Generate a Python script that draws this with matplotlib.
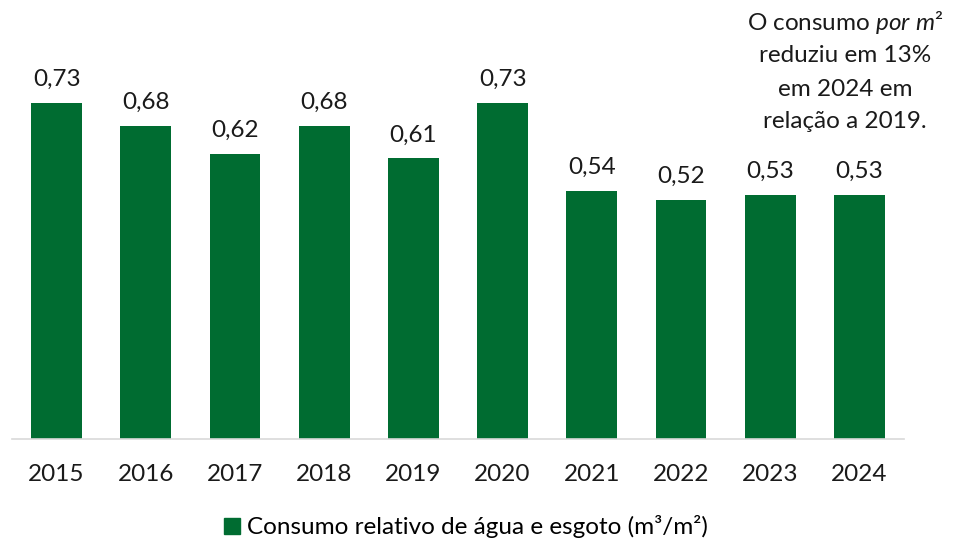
import matplotlib
matplotlib.use("Agg")
import matplotlib.pyplot as plt
from matplotlib.patches import Patch

years = ["2015", "2016", "2017", "2018", "2019", "2020", "2021", "2022", "2023", "2024"]
values = [0.73, 0.68, 0.62, 0.68, 0.61, 0.73, 0.54, 0.52, 0.53, 0.53]
labels = ["0,73", "0,68", "0,62", "0,68", "0,61", "0,73", "0,54", "0,52", "0,53", "0,53"]
series_name = "Consumo relativo de água e esgoto (m³/m²)"

green = "#006C31"
plt.rcParams['font.family'] = ['Lato', 'DejaVu Sans']
plt.rcParams['mathtext.fontset'] = 'custom'
plt.rcParams['mathtext.rm'] = 'Lato'
plt.rcParams['mathtext.it'] = 'Lato:italic'

fs = 17.5
tc = '#1a1a1a'
fig = plt.figure(figsize=(9.55, 5.44), dpi=100)
ax = fig.add_axes([12/955, (544-439)/544, (904-12)/955, 439/544])
x = list(range(len(years)))
ax.bar(x, values, width=0.57, color=green)
ax.set_xlim(-0.5, len(years)-0.5)
ax.set_ylim(0, 0.954)
for xi, v, lab in zip(x, values, labels):
    ax.text(xi, v + 0.028, lab, ha='center', va='bottom', fontsize=fs, color=tc)
ax.set_yticks([])
ax.set_xticks(x)
ax.set_xticklabels(years, fontsize=fs, color=tc)
ax.tick_params(axis='x', length=0, pad=18)
for s in ['top', 'right', 'left']:
    ax.spines[s].set_visible(False)
ax.spines['bottom'].set_color('#d9d9d9')
ax.spines['bottom'].set_linewidth(1.2)

fig.legend(handles=[Patch(color=green, label=series_name)], loc='center',
           bbox_to_anchor=(466/955, 1-527/544), frameon=False, fontsize=fs,
           handlelength=0.65, handleheight=0.65, handletextpad=0.3)

cx = 845/955
fig.text(cx, 1-23/544, "O consumo $\\it{por\\ m²}$", ha='center', va='center', fontsize=fs, color=tc)
fig.text(cx, 1-56/544, "reduziu em 13%", ha='center', va='center', fontsize=fs, color=tc)
fig.text(cx, 1-89/544, "em 2024 em", ha='center', va='center', fontsize=fs, color=tc)
fig.text(cx, 1-121/544, "relação a 2019.", ha='center', va='center', fontsize=fs, color=tc)

fig.savefig("out.png", dpi=100)
